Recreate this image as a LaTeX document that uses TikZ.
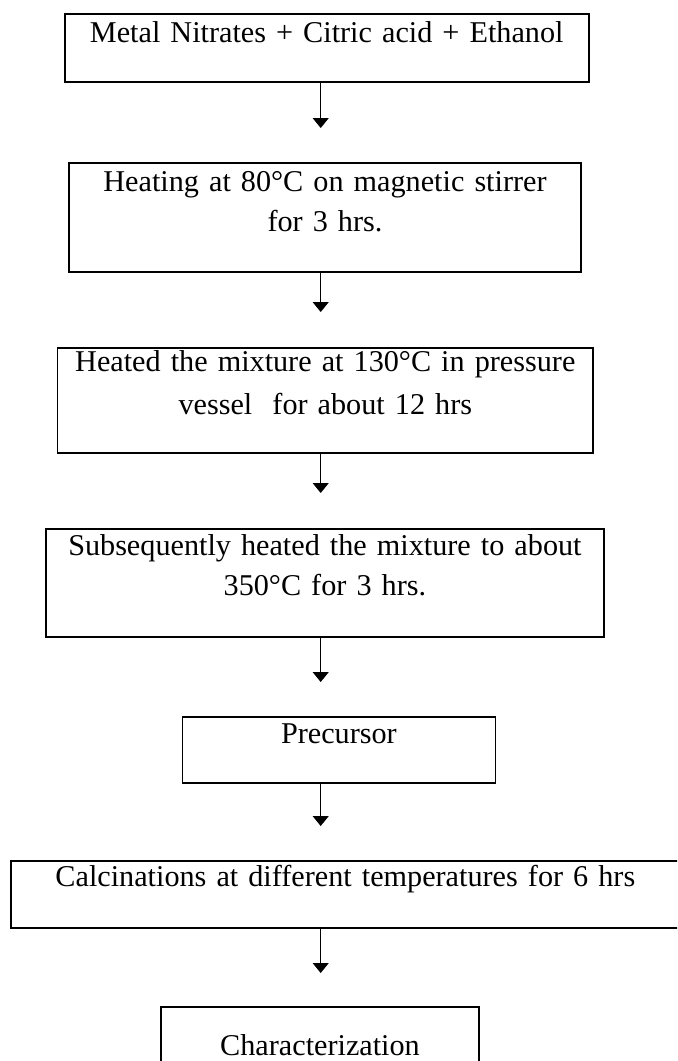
\documentclass[tikz,border=0pt]{standalone}
\usepackage{fontspec}
\setmainfont{Liberation Serif}
\usetikzlibrary{arrows.meta}

\tikzset{
  stepbox/.style={draw, line width=0.9pt, inner xsep=0pt, inner ysep=0pt,
    align=center, anchor=base, font=\fontsize{15.1}{20}\selectfont},
  flow/.style={line width=0.6pt, -{Triangle[width=8pt,length=5pt]}},
}

\begin{document}
\begin{tikzpicture}[x=0.5pt, y=-0.5pt]
 \clip (0,0) rectangle (677,1061);

 \node[stepbox, text width=262pt, text height=14.35pt, text depth=19.65pt] (S1) at (326.7,42.7)
   {Metal Nitrates + Citric acid + Ethanol}; % start
 \node[stepbox, text width=256pt, text height=14.35pt, text depth=40.15pt] (S2) at (325,191.7)
   {Heating at 80°C on magnetic stirrer\\ for 3 hrs.};
 \node[stepbox, text width=267.75pt, text height=12pt, text depth=40.8pt] (S3) at (325.3,371.7)
   {Heated the mixture at 130°C in pressure\\[1.5pt] vessel~ for about 12 hrs};
 \node[stepbox, text width=279.1pt, text height=12.85pt, text depth=40.85pt] (S4) at (324.9,555)
   {Subsequently heated the mixture to about\\ 350°C for 3 hrs.};
 \node[stepbox, text width=156.5pt, text height=13.15pt, text depth=20.15pt] (S5) at (338.9,743)
   {Precursor};
 \node[stepbox, text width=334.65pt, text height=12.85pt, text depth=20.5pt] (S6) at (345.35,886.7)
   {Calcinations at different temperatures for 6 hrs};
 \node[stepbox, text width=159.3pt, text height=24.15pt, text depth=15pt] (S7) at (320,1055)
   {Characterization}; % cut at the bottom

 % arrow tips, left hanging above the next box
 \coordinate (T1) at (320.7,128);
 \coordinate (T2) at (320.7,312);
 \coordinate (T3) at (320.7,493);
 \coordinate (T4) at (320.7,682);
 \coordinate (T5) at (320.7,826);
 \coordinate (T6) at (320.7,973);

 \draw[flow] (S1.south -| T1) -- (T1);
 \draw[flow] (S2.south -| T2) -- (T2);
 \draw[flow] (S3.south -| T3) -- (T3);
 \draw[flow] (S4.south -| T4) -- (T4);
 \draw[flow] (S5.south -| T5) -- (T5);
 \draw[flow] (S6.south -| T6) -- (T6);
\end{tikzpicture}
\end{document}
